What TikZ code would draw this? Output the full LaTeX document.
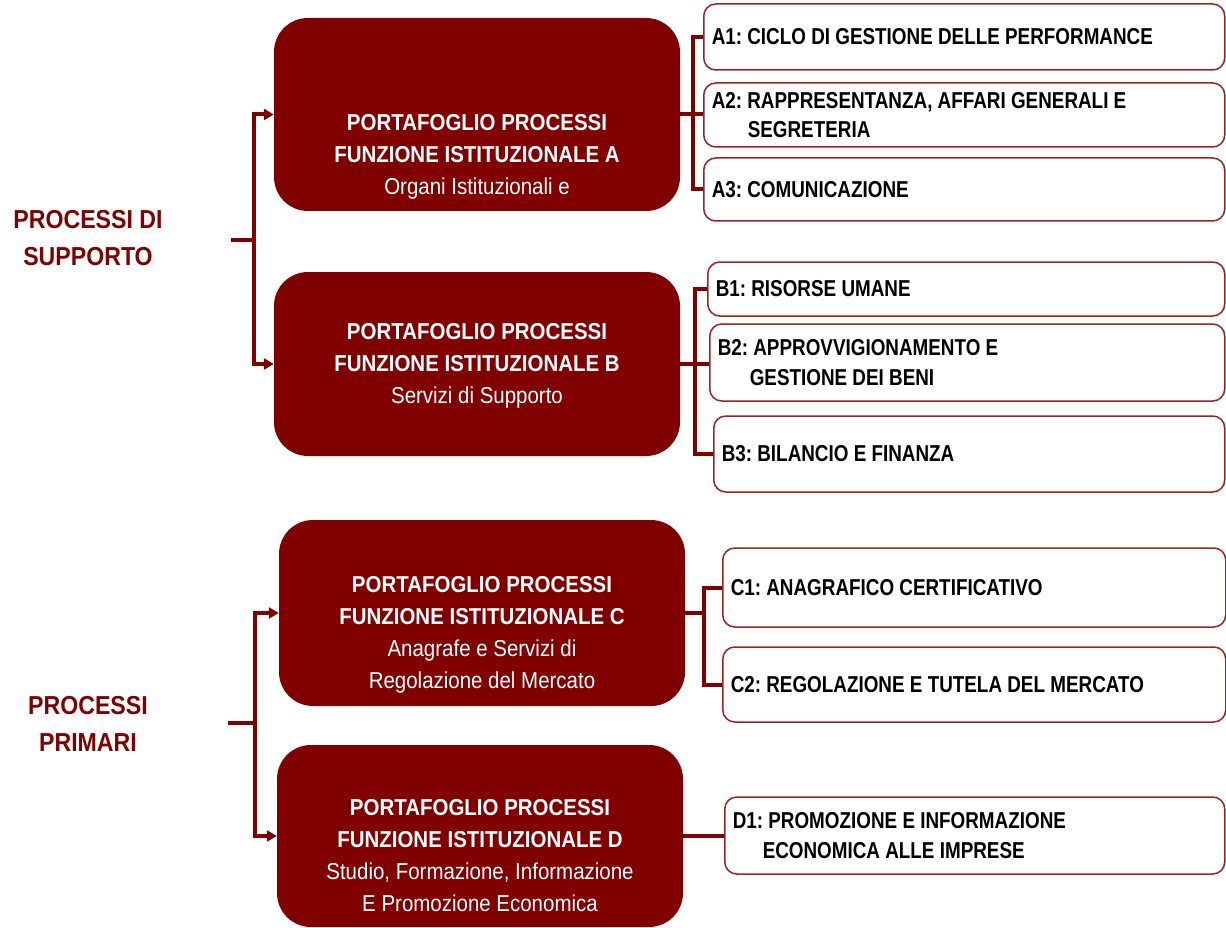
\documentclass[tikz,border=0pt]{standalone}
\usepackage{fontspec}
\setmainfont[FakeStretch=0.89]{Liberation Sans}
\newfontfamily\narrowf[FakeStretch=0.82]{Liberation Sans}
\usetikzlibrary{arrows.meta}
\definecolor{dred}{RGB}{128,0,0}
\definecolor{bred}{RGB}{155,35,35}
\begin{document}
\frenchspacing
\begin{tikzpicture}[x=1pt,y=-1pt,
  bigbox/.style={fill=dred, draw=none, rounded corners=34pt, inner sep=0pt, minimum width=406pt},
  bigtext/.style={text=white, align=center, font=\fontsize{23}{32}\selectfont},
  sbox/.style={draw=bred, line width=1.5pt, fill=white, rounded corners=12pt, anchor=west,
    align=flush left, inner xsep=8pt, inner ysep=0pt, font=\narrowf\bfseries\fontsize{23}{29.5}\selectfont},
  side/.style={text=dred, align=center, font=\bfseries\fontsize{26}{37}\selectfont},
  conn/.style={draw=dred, line width=4pt},
  arr/.style={conn, -{Triangle[length=10pt,width=11pt]}}
]
\useasboundingbox (0,0) rectangle (1226,928);

% big boxes
\node[bigbox, minimum height=193pt] (A) at (477,114.5) {};
\node[bigtext] (Atext) at (477,157) {\textbf{PORTAFOGLIO PROCESSI}\\\textbf{FUNZIONE ISTITUZIONALE A}\\Organi Istituzionali e};
\node[bigbox, minimum height=184pt] (B) at (477,364) {};
\node[bigtext] (Btext) at (477,366) {\textbf{PORTAFOGLIO PROCESSI}\\\textbf{FUNZIONE ISTITUZIONALE B}\\Servizi di Supporto};
\node[bigbox, minimum height=186pt] (C) at (482,613) {};
\node[bigtext] (Ctext) at (482,635) {\textbf{PORTAFOGLIO PROCESSI}\\\textbf{FUNZIONE ISTITUZIONALE C}\\Anagrafe e Servizi di\\Regolazione del Mercato};
\node[bigbox, minimum height=182pt] (D) at (480,836) {};
\node[bigtext] (Dtext) at (480,856) {\textbf{PORTAFOGLIO PROCESSI}\\\textbf{FUNZIONE ISTITUZIONALE D}\\Studio, Formazione, Informazione\\E Promozione Economica};

% small boxes
\node[sbox, text width=505pt, minimum height=66pt] (A1) at (703,37) {A1: CICLO DI GESTIONE DELLE PERFORMANCE};
\node[sbox, text width=505pt, minimum height=64pt] (A2) at (703,115) {A2: RAPPRESENTANZA, AFFARI GENERALI E\\\hspace*{36pt}SEGRETERIA};
\node[sbox, text width=505pt, minimum height=63pt] (A3) at (703,189.5) {A3: COMUNICAZIONE};
\node[sbox, text width=501pt, minimum height=54pt] (B1) at (707,289) {B1: RISORSE UMANE};
\node[sbox, text width=499pt, minimum height=77pt] (B2) at (709,362.5) {B2: APPROVVIGIONAMENTO E\\\hspace*{32pt}GESTIONE DEI BENI};
\node[sbox, text width=495pt, minimum height=76pt] (B3) at (713,454) {B3: BILANCIO E FINANZA};
\node[sbox, text width=487pt, minimum height=79pt] (C1) at (722,587.5) {C1: ANAGRAFICO CERTIFICATIVO};
\node[sbox, text width=487pt, minimum height=75pt] (C2) at (722,684.5) {C2: REGOLAZIONE E TUTELA DEL MERCATO};
\node[sbox, text width=484pt, minimum height=77pt] (D1) at (724,835.5) {D1: PROMOZIONE E INFORMAZIONE\\\hspace*{30pt}ECONOMICA ALLE IMPRESE};

% side labels
\node[side] (sup) at (88,238) {PROCESSI DI\\SUPPORTO};
\node[side] (pri) at (88,724) {PROCESSI\\PRIMARI};

% right connectors
\draw[conn] (A1.west) -- ++(-10,0) |- (A3.west);
\draw[conn] (A.east) -- (A.east -| A2.west);
\draw[conn] (B1.west) -- ++(-12,0) |- (B3.west);
\draw[conn] (B.east) -- (B.east -| B2.west);
\coordinate (Cbar) at ([xshift=-18pt]C1.west);
\draw[conn] (C1.west) -- (Cbar) |- (C2.west);
\draw[conn] (C.east) -- (C.east -| Cbar);
\draw[conn] (D.east) -- (D.east -| D1.west);

% left brackets
\coordinate (Sin) at (231,240);
\coordinate (Sbar) at (254,240);
\draw[conn] (Sin) -- (Sbar);
\draw[arr] (Sbar) |- (A.west);
\draw[arr] (Sbar) |- (B.west);
\coordinate (Pin) at (228,723);
\coordinate (Pbar) at (255,723);
\draw[conn] (Pin) -- (Pbar);
\draw[arr] (Pbar) |- (C.west);
\draw[arr] (Pbar) |- (D.west);
\end{tikzpicture}
\end{document}
